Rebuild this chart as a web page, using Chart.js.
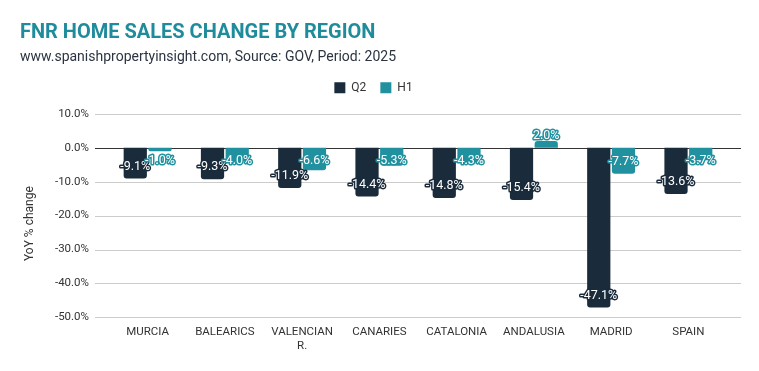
<!DOCTYPE html>
<html>
<head>
<meta charset="utf-8">
<script src="https://cdn.jsdelivr.net/npm/chart.js@4"></script>
<style>
  html, body { margin: 0; padding: 0; background: #fff; }
  #wrap { width: 759px; height: 371px; position: relative; }
</style>
</head>
<body>
<div id="wrap"><canvas id="chart"></canvas></div>
<script>
const regions = ['MURCIA', 'BALEARICS', ['VALENCIAN', 'R.'], 'CANARIES', 'CATALONIA', 'ANDALUSIA', 'MADRID', 'SPAIN'];
const q2Values = [-9.1, -9.3, -11.9, -14.4, -14.8, -15.4, -47.1, -13.6];
const h1Values = [-1.0, -4.0, -6.6, -5.3, -4.3, 2.0, -7.7, -3.7];
const seriesNames = ['Q2', 'H1'];
const seriesColors = ['#1a2b3b', '#2191a0'];
const yTitle = 'YoY % change';

// horizontal grid lines, a little wider than the category area, plus the y title
const wideGrid = {
    id: 'wideGrid',
    beforeDatasetsDraw(chart) {
        const ctx = chart.ctx;
        const area = chart.chartArea;
        const y = chart.scales.y;
        ctx.save();
        ctx.lineWidth = 1;
        y.ticks.forEach(t => {
            const py = Math.round(y.getPixelForValue(t.value)) + 0.5;
            ctx.strokeStyle = t.value === 0 ? '#333333' : '#cccccc';
            ctx.beginPath();
            ctx.moveTo(area.left - 14, py);
            ctx.lineTo(area.right + 14, py);
            ctx.stroke();
        });
        // rotated axis title, sits a bit below the plot centre like the original
        ctx.translate(30, (area.top + area.bottom) / 2 + 8);
        ctx.rotate(-Math.PI / 2);
        ctx.font = '12px Roboto';
        ctx.fillStyle = '#333';
        ctx.textAlign = 'center';
        ctx.textBaseline = 'middle';
        ctx.fillText(yTitle, 0, 0);
        ctx.restore();
    }
};

// draw value labels near the bar ends, white text with a coloured outline
const valueLabels = {
    id: 'valueLabels',
    afterDatasetsDraw(chart) {
        const ctx = chart.ctx;
        const zeroY = chart.scales.y.getPixelForValue(0);
        ctx.save();
        ctx.font = '12.5px Roboto';
        ctx.textAlign = 'center';
        ctx.textBaseline = 'middle';
        ctx.lineJoin = 'round';
        chart.data.datasets.forEach((ds, i) => {
            const meta = chart.getDatasetMeta(i);
            meta.data.forEach((bar, j) => {
                const v = ds.data[j];
                const text = v.toFixed(1) + '%';
                const y = v < 0 ? Math.max(bar.y - 12, zeroY + 13) : Math.min(bar.y + 12, zeroY - 12);
                ctx.lineWidth = 3;
                ctx.strokeStyle = ds.backgroundColor;
                ctx.strokeText(text, bar.x, y);
                ctx.fillStyle = '#ffffff';
                ctx.fillText(text, bar.x, y);
            });
        });
        ctx.restore();
    }
};

// extra space under the legend
const legendGap = {
    id: 'legendGap',
    beforeInit(chart) {
        const fit = chart.legend.fit;
        chart.legend.fit = function() {
            fit.bind(chart.legend)();
            this.height += 10;
        };
    }
};

new Chart(document.getElementById('chart'), {
    type: 'bar',
    data: {
        labels: regions,
        datasets: [
            { label: seriesNames[0], data: q2Values, backgroundColor: seriesColors[0], borderRadius: 3 },
            { label: seriesNames[1], data: h1Values, backgroundColor: seriesColors[1], borderRadius: 3 }
        ]
    },
    options: {
        responsive: true,
        maintainAspectRatio: false,
        animation: false,
        categoryPercentage: 0.64,
        barPercentage: 0.94,
        layout: { padding: { left: 20, right: 32, top: 21, bottom: 18 } },
        plugins: {
            title: {
                display: true,
                text: 'FNR HOME SALES CHANGE BY REGION',
                align: 'start',
                color: '#1f8c9c',
                font: { family: 'Roboto', size: 20, weight: 'bold' },
                padding: { top: 0, bottom: 4 }
            },
            subtitle: {
                display: true,
                text: 'www.spanishpropertyinsight.com, Source: GOV, Period: 2025',
                align: 'start',
                color: '#2b3440',
                font: { family: 'Roboto', size: 14 },
                padding: { top: 0, bottom: 2 }
            },
            legend: {
                position: 'top',
                labels: {
                    boxWidth: 11,
                    boxHeight: 11,
                    color: '#333',
                    font: { family: 'Roboto', size: 12 },
                    padding: 14
                }
            },
            tooltip: { enabled: false }
        },
        scales: {
            x: {
                grid: { display: false },
                border: { display: false },
                ticks: { color: '#333', font: { family: 'Roboto', size: 11.5 }, maxRotation: 0, padding: 0 }
            },
            y: {
                min: -50,
                max: 10,
                afterFit: scale => { scale.width = 89; },
                ticks: {
                    stepSize: 10,
                    color: '#333',
                    padding: 20,
                    font: { family: 'Roboto', size: 11.5 },
                    callback: v => v.toFixed(1) + '%'
                },
                grid: { display: false, drawTicks: false },
                border: { display: false }
            }
        }
    },
    plugins: [wideGrid, valueLabels, legendGap]
});
</script>
</body>
</html>
